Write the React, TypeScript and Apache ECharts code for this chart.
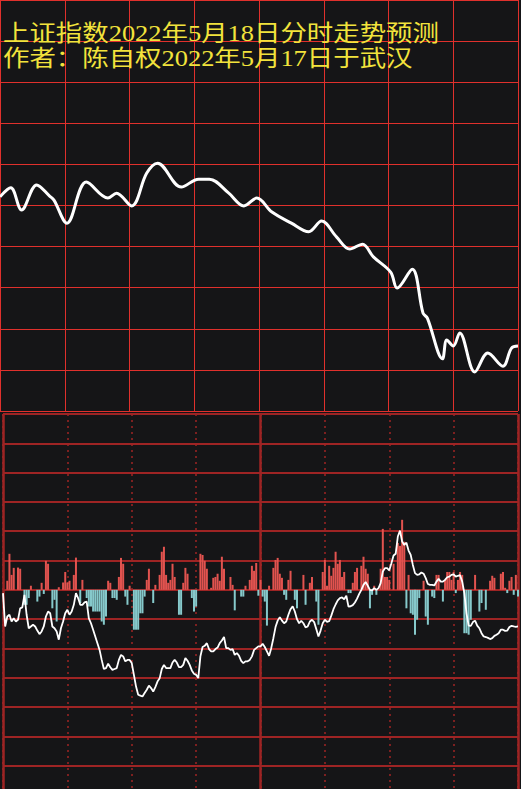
import React, { useEffect, useRef } from "react";
import * as echarts from "echarts";

const titleLine1 = "上证指数2022年5月18日分时走势预测";
const titleLine2 = "作者：陈自权2022年5月17日于武汉";

// Top panel: predicted index path (minute of session, relative level 0..100)
const priceMinutes = [0, 5, 10, 17, 23, 25, 31, 40, 50, 54, 61, 68, 73, 84, 92, 97, 106, 113, 119, 126, 135, 143, 149, 156, 162, 168, 173, 181, 184, 191, 196, 198, 205, 207, 210, 213, 220, 226, 233, 237, 240];
const priceValues = [52.1, 54.3, 48.9, 55.0, 52.3, 51.3, 45.7, 55.7, 51.8, 53.0, 49.9, 57.9, 60.3, 54.5, 56.4, 56.4, 53.0, 49.9, 51.8, 48.4, 45.7, 43.6, 46.2, 42.3, 39.4, 40.6, 37.5, 33.8, 29.9, 34.5, 23.8, 22.6, 12.7, 17.3, 15.8, 19.0, 9.5, 14.1, 10.9, 15.3, 15.8];

// Bottom panel: per-minute white line (minutes 0..240)
const flowLine = [
  -0.11, -1.25, -0.91, -0.85, -1.08, -0.97, -1.08, -1.02, -0.63, -0.6,
  -0.17, -0.85, -1.31, -1.25, -1.19, -1.25, -1.39, -1.51, -1.42, -1.25,
  -0.91, -0.74, -0.8, -1.25, -1.31, -1.42, -1.7, -1.31, -1.08, -0.8,
  -0.68, -0.85, -0.74, -0.51, -0.11, -0.28, -0.51, -0.51, -0.43, -0.4,
  -0.97, -1.14, -1.36, -1.59, -1.82, -2.05, -2.39, -2.7, -2.67, -2.52,
  -2.64, -2.73, -2.7, -2.67, -2.39, -2.22, -2.27, -2.44, -2.39, -2.39,
  -2.5, -2.9, -3.3, -3.58, -3.61, -3.64, -3.52, -3.41, -3.27, -3.35,
  -3.47, -3.32, -3.13, -3.02, -2.7, -2.56, -2.67, -2.67, -2.67, -2.48,
  -2.39, -2.48, -2.64, -2.64, -2.56, -2.33, -2.42, -2.56, -2.75, -2.86,
  -2.9, -3.01, -2.27, -1.95, -1.91, -1.82, -2.02, -2.1, -2.1, -2.02,
  -1.97, -1.82, -1.73, -1.61, -1.99, -1.99, -2.05, -2.02, -2.22, -2.16,
  -2.25, -2.42, -2.5, -2.44, -2.44, -2.39, -2.27, -2.05, -1.99, -1.93,
  -1.93, -1.84, -1.95, -2.1, -2.25, -1.99, -1.65, -1.27, -1.05, -0.93,
  -1.05, -1.14, -1.08, -0.85, -0.66, -0.56, -0.74, -1.0, -1.14, -1.06,
  -1.14, -1.28, -1.25, -1.08, -1.02, -1.1, -1.34, -1.59, -1.39, -1.14,
  -1.02, -1.09, -1.07, -0.88, -0.66, -0.5, -0.36, -0.28, -0.26, -0.32,
  -0.2, -0.57, -0.56, -0.52, -0.43, -0.3, -0.14, 0.0, 0.17, 0.27,
  0.14, 0.0, -0.02, 0.06, 0.0, 0.06, 0.23, 0.63, 0.74, 0.74,
  0.66, 0.91, 1.17, 1.23, 1.82, 2.02, 1.65, 1.53, 1.61, 1.34,
  1.19, 0.85, 0.57, 0.51, 0.53, 0.59, 0.55, 0.4, 0.2, 0.17,
  0.17, 0.15, 0.28, 0.38, 0.28, 0.28, 0.34, 0.43, 0.45, 0.51,
  0.53, 0.45, 0.48, 0.5, 0.28, -0.11, -0.8, -1.22, -1.23, -1.1,
  -1.05, -1.22, -1.31, -1.48, -1.59, -1.61, -1.64, -1.68, -1.65, -1.57,
  -1.53, -1.48, -1.36, -1.36, -1.4, -1.39, -1.27, -1.23, -1.25, -1.26,
  -1.25,
];

// Bottom panel: bars (minute, value); positive red, negative cyan
const barMinutes = [
  2, 3, 4, 5, 7, 8, 10, 11, 12, 13, 16, 17, 18, 19, 20, 21, 23, 24, 25, 26,
  28, 29, 30, 31, 33, 34, 36, 37, 39, 40, 41, 42, 43, 44, 45, 46, 47, 48, 49, 50,
  51, 52, 53, 54, 55, 56, 57, 58, 59, 61, 62, 63, 64, 65, 66, 67, 68, 70, 71, 73,
  74, 75, 76, 77, 78, 79, 80, 82, 83, 84, 85, 86, 88, 89, 90, 92, 93, 94, 95, 97,
  98, 99, 100, 101, 102, 103, 106, 107, 108, 111, 112, 113, 115, 116, 117, 118, 119, 120, 121, 122,
  123, 124, 126, 127, 128, 129, 130, 131, 132, 133, 134, 136, 137, 140, 141, 143, 144, 146, 147, 149,
  150, 151, 152, 153, 154, 155, 156, 157, 158, 159, 161, 162, 163, 164, 165, 167, 168, 169, 170, 171,
  172, 173, 174, 176, 177, 178, 179, 180, 182, 184, 185, 186, 187, 188, 189, 190, 191, 192, 193, 194,
  196, 197, 198, 200, 201, 202, 203, 205, 206, 207, 208, 209, 210, 211, 212, 213, 214, 215, 216, 217,
  218, 220, 222, 223, 225, 227, 228, 229, 232, 233, 234, 235, 236, 237, 238, 239, 240,
];
const barValues = [
  0.31, 1.23, 0.51, 0.75, 0.76, 0.72, -0.51, -0.51, -0.28, 0.14, -0.4, -0.23, 0.24, -0.14, 0.99, 0.89, -0.63, -0.34, -1.08, 0.09,
  0.25, 0.61, 0.25, 0.31, 0.51, 1.1, -0.45, 0.34, -0.28, -0.57, -0.57, -0.74, -0.74, -0.74, -0.74, -1.08, -1.19, -0.91, 0.31, 0.24,
  -0.28, -0.28, -0.34, 0.44, 1.09, 0.89, -0.23, -0.51, 0.14, -1.36, -1.36, -1.36, -0.8, -0.8, -0.23, 0.34, 0.72, -0.45, 0.17, 0.51,
  1.3, 1.47, 0.51, 0.24, 0.34, 0.89, 0.44, -0.85, -0.85, 0.24, 0.75, 0.55, -0.28, -0.74, -0.57, 1.23, 1.19, 0.99, 0.72, 0.07,
  0.41, 0.44, 0.55, 0.31, 1.13, 0.72, 0.44, 0.17, -0.7, -0.23, -0.23, 0.14, 0.34, 0.82, 0.65, 0.92, -0.2, 0.34, -0.23, -0.4,
  -1.22, 0.14, 0.75, 1.02, 1.09, 0.55, 0.41, -0.17, -0.34, 0.34, 0.65, -0.34, -0.63, 0.51, -0.51, 0.24, 0.44, -0.4, -1.19, 0.61,
  1.02, 0.14, 0.82, 0.48, 0.75, 1.3, 0.89, 1.02, 0.44, 0.61, -0.11, -0.11, 0.24, 0.61, 0.75, 0.82, 1.13, 0.72, 0.55, -0.63,
  -0.17, 0.14, -0.17, 0.72, 2.08, 0.44, 0.44, 0.34, 0.89, 1.6, 1.5, 2.39, 1.64, -0.63, 0.51, -0.8, -0.85, -1.53, -1.02, -0.28,
  0.31, -0.91, -1.19, -0.23, -0.28, 0.51, 0.51, -0.4, 0.34, 0.61, 0.61, 0.34, 0.61, -0.11, 0.34, 0.61, 0.51, -1.48, -1.48, -1.53,
  -1.02, 0.51, -0.74, -0.45, -0.68, 0.31, 0.48, 0.41, 0.55, 0.61, 0.07, -0.11, 0.31, 0.44, -0.17, 0.51, -0.23,
];

const BG = "#151517";
const TOP_GRID = "#e0302c";
const BOT_GRID = "#9e2424";
const RED = "#e2534f";
const CYAN = "#86c9cb";
const YELLOW = "#f2e33c";
const TITLE_FONT = '22.5px "Liberation Serif", "Noto Sans CJK SC"';

export default function App() {
  const ref = useRef<HTMLDivElement>(null);
  useEffect(() => {
    document.body.style.margin = "0";
    document.body.style.overflow = "hidden";
    document.body.style.background = BG;
    const chart = echarts.init(ref.current!, null, { renderer: "svg" });
    const linePts = flowLine.map((v, i) => [i, v]);
    const barPts = barMinutes.map((m, i) => [m, barValues[i]]);
    const pricePts = priceMinutes.map((m, i) => [m, priceValues[i]]);
    const hiddenAxis = {
      axisLine: { show: false },
      axisTick: { show: false },
      axisLabel: { show: false },
    };
    chart.setOption({
      animation: false,
      backgroundColor: BG,
      grid: [
        { left: 0, top: 0, width: 518, height: 411 },
        { left: 3, top: 414, width: 515, height: 381 },
      ],
      xAxis: [
        {
          type: "value", gridIndex: 0, min: 0, max: 240, interval: 30, ...hiddenAxis,
          splitLine: { show: true, lineStyle: { color: TOP_GRID, width: 1 } },
        },
        {
          type: "value", gridIndex: 1, min: 0, max: 240, interval: 30, ...hiddenAxis,
          splitLine: { show: true, lineStyle: { color: BOT_GRID, width: 1.5, type: [2, 4] } },
        },
        {
          type: "value", gridIndex: 1, min: 0, max: 240, interval: 120, ...hiddenAxis,
          splitLine: { show: true, lineStyle: { color: BOT_GRID, width: 2.5 } },
        },
      ],
      yAxis: [
        {
          type: "value", gridIndex: 0, min: 0, max: 100, interval: 10, ...hiddenAxis,
          splitLine: { show: true, lineStyle: { color: TOP_GRID, width: 1 } },
        },
        {
          type: "value", gridIndex: 1, min: -7, max: 6, interval: 1, ...hiddenAxis,
          splitLine: { show: true, lineStyle: { color: BOT_GRID, width: 2 } },
        },
      ],
      graphic: [
        {
          type: "text", x: 3, y: 22, scaleX: 1.175, z: 100,
          style: { text: titleLine1, fill: YELLOW, font: TITLE_FONT, verticalAlign: "top", align: "left" },
        },
        {
          type: "text", x: 3, y: 47, scaleX: 1.175, z: 100,
          style: { text: titleLine2, fill: YELLOW, font: TITLE_FONT, verticalAlign: "top", align: "left" },
        },
      ],
      series: [
        {
          type: "line", xAxisIndex: 0, yAxisIndex: 0, data: pricePts,
          smooth: 0.35, symbol: "none",
          lineStyle: { color: "#ffffff", width: 3 },
        },
        {
          type: "bar", xAxisIndex: 1, yAxisIndex: 1, data: barPts, barWidth: 2,
          itemStyle: { color: (p: any) => (p.value[1] >= 0 ? RED : CYAN) },
        },
        {
          type: "line", xAxisIndex: 1, yAxisIndex: 1, data: linePts,
          symbol: "none", lineStyle: { color: "#ffffff", width: 1.8 }, z: 5,
        },
      ],
    });
    return () => chart.dispose();
  }, []);
  return <div ref={ref} style={{ width: 521, height: 800 }} />;
}
